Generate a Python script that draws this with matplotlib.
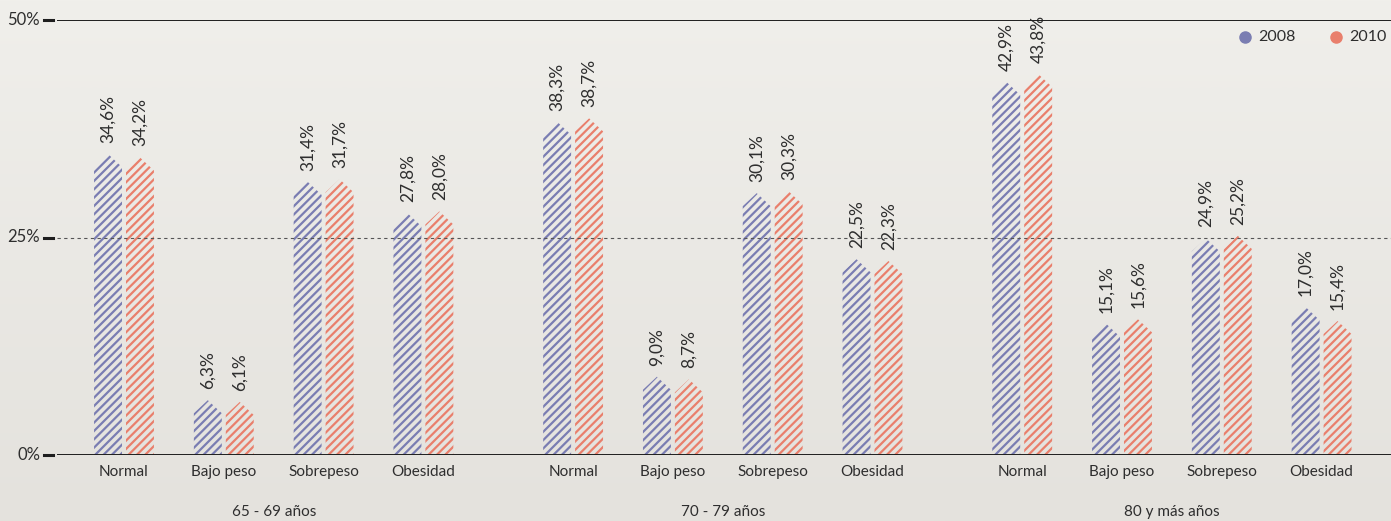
import numpy as np
import matplotlib
matplotlib.use("Agg")
import matplotlib.pyplot as plt
from matplotlib.patches import Polygon
from matplotlib.lines import Line2D

plt.rcParams['font.family'] = ['Lato', 'DejaVu Sans']
plt.rcParams['hatch.linewidth'] = 1.6

groups = ["65 - 69 años", "70 - 79 años", "80 y más años"]
categories = ["Normal", "Bajo peso", "Sobrepeso", "Obesidad"]
series_names = ["2008", "2010"]
vals_2008 = [34.6, 6.3, 31.4, 27.8, 38.3, 9.0, 30.1, 22.5, 42.9, 15.1, 24.9, 17.0]
vals_2010 = [34.2, 6.1, 31.7, 28.0, 38.7, 8.7, 30.3, 22.3, 43.8, 15.6, 25.2, 15.4]
yticks = [0, 25, 50]
ytick_labels = ["0%", "25%", "50%"]

c_blue = "#7a7db2"
c_red = "#e97f6c"
txt = "#2e2e2e"

W, H = 1391, 521
fig = plt.figure(figsize=(W / 100, H / 100), dpi=100)

# background gradient
bg = fig.add_axes([0, 0, 1, 1], zorder=-10)
top = np.array([0xf0, 0xef, 0xeb]) / 255
bot = np.array([0xe4, 0xe2, 0xdd]) / 255
t = np.linspace(0, 1, 256)[:, None]
grad = top[None, :] * (1 - t) + bot[None, :] * t
bg.imshow(grad[:, None, :], aspect='auto', extent=[0, 1, 0, 1])
bg.axis('off')

ax_l = 57
ax = fig.add_axes([ax_l / W, (H - 455) / H, (W - ax_l) / W, 435 / H])
ax.patch.set_alpha(0)
axw = W - ax_l
axh = 435

unit = 99.8
ax.set_xlim((ax_l - 124) / unit, (W - 124) / unit)
ax.set_ylim(0, 50)
for s in ax.spines.values():
    s.set_visible(False)
ax.set_xticks([])
ax.set_yticks([])

# positions
xpos = []
for g in range(len(groups)):
    for c in range(len(categories)):
        xpos.append(g * 4.5 + c)
xpos = np.array(xpos)

bw = 0.28
off = 0.16
peak = 1.5  # height of pointed top in data units


def draw_bar(xc, v, color):
    x0, x1 = xc - bw / 2, xc + bw / 2
    pts = [(x0, 0), (x0, v - peak), (xc, v), (x1, v - peak), (x1, 0)]
    p = Polygon(pts, closed=True, facecolor='none', edgecolor=color,
                linewidth=0, hatch='////', zorder=2)
    ax.add_patch(p)


for i, x in enumerate(xpos):
    for v, dx, col in [(vals_2008[i], -off, c_blue), (vals_2010[i], off, c_red)]:
        draw_bar(x + dx, v, col)
        ax.annotate(f"{v:.1f}%".replace('.', ','), (x + dx, v),
                    xytext=(0, 8), textcoords='offset points',
                    rotation=90, ha='center', va='bottom',
                    fontsize=12.5, color=txt)

# horizontal lines
ax.axhline(0, color="#1e1e1e", lw=1.4, zorder=3)
ax.axhline(50, color="#1e1e1e", lw=1.4, zorder=3)
ax.axhline(25, color="#555555", lw=0.8, ls=(0, (3, 3)), zorder=4)

# y ticks drawn manually
ytr = ax.get_yaxis_transform()
for y, lab in zip(yticks, ytick_labels):
    ax.add_line(Line2D([-13 / axw, -4 / axw], [y, y], transform=ytr,
                       color="#1e1e1e", lw=2.2, clip_on=False))
    ax.text(-17 / axw, y, lab, transform=ytr, ha='right', va='center',
            fontsize=12, color=txt)

# category labels and group labels
xtr = ax.get_xaxis_transform()
for i, x in enumerate(xpos):
    ax.text(x, -17 / axh, categories[i % 4], transform=xtr, ha='center',
            va='center', fontsize=11, color=txt)
for g, name in enumerate(groups):
    ax.text(g * 4.5 + 1.5, -57 / axh, name, transform=xtr, ha='center',
            va='center', fontsize=11, color=txt)

# legend
for xd, name, col in [(1245, series_names[0], c_blue), (1336, series_names[1], c_red)]:
    fig.add_artist(Line2D([xd / W], [(H - 37) / H], transform=fig.transFigure,
                          marker='o', markersize=8, color=col, lw=0))
    fig.text((xd + 13) / W, (H - 37) / H, name, ha='left', va='center',
             fontsize=11.5, color=txt)

fig.savefig("out.png", dpi=100)
